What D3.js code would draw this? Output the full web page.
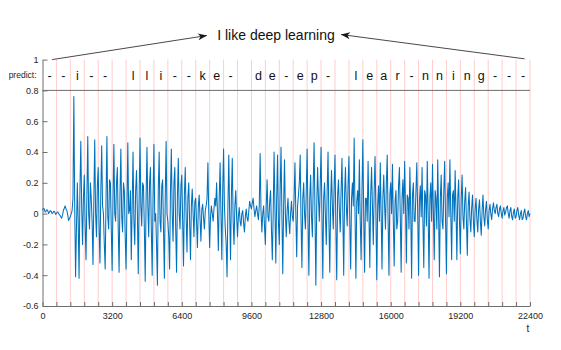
<!DOCTYPE html>
<html>
<head>
<meta charset="utf-8">
<script src="https://cdn.jsdelivr.net/npm/d3@7"></script>
<style>
  html, body { margin: 0; padding: 0; background: #fff; }
  svg { display: block; font-family: "Liberation Sans", Arial, Helvetica, sans-serif; }
</style>
</head>
<body>
<svg id="chart" width="561" height="350"></svg>
<script>
// Speech waveform, one value every 40 samples (t = 0 .. 22400)
const sampleStep = 40;
const wave = [
  0.02,0.035, 0.03,0.01, 0.015,0.025, 0.02,0.0, 0.01,0.02, 0.015,0.0, 0.005,0.015, 0.012,-0.005, 0.0,0.01, 0.008,-0.005,
  -0.01,-0.02, -0.03,-0.01, 0.02,0.035, 0.05,0.03, 0.02,-0.01, -0.045,-0.03, -0.02,0.0, 0.02,0.1, 0.76,0.05, -0.41,-0.1,
  0.2,-0.05, -0.42,0.15, 0.47,0.05, -0.2,0.1, 0.25,-0.08, -0.3,0.12, 0.5,0.0, -0.1,0.2, 0.1,-0.05, -0.33,0.1,
  0.48,0.0, -0.15,0.18, 0.3,-0.1, -0.32,0.15, 0.44,0.05, 0.0,-0.2, -0.36,0.1, 0.5,-0.02, -0.1,0.22, 0.2,-0.1,
  -0.37,0.1, 0.45,0.0, -0.05,0.2, 0.3,-0.1, -0.38,0.12, 0.42,-0.02, -0.12,0.2, 0.15,-0.15, -0.36,0.05, 0.46,0.0,
  0.02,0.15, -0.3,0.05, 0.4,-0.05, -0.2,0.15, 0.28,0.0, -0.39,0.1, 0.49,0.05, -0.08,0.2, 0.18,-0.1, -0.44,0.1,
  0.43,0.05, -0.15,0.2, 0.3,-0.1, -0.4,0.12, 0.45,-0.05, 0.0,-0.2, -0.465,0.15, 0.4,-0.05, -0.12,0.18, 0.22,-0.1,
  -0.42,0.1, 0.47,0.0, -0.05,-0.15, -0.36,0.15, 0.42,0.0, -0.18,0.2, 0.3,-0.1, -0.38,0.12, 0.36,0.0, -0.1,0.18,
  0.25,-0.05, -0.34,0.12, 0.3,-0.02, -0.25,0.1, 0.2,-0.05, -0.3,0.05, 0.16,0.0, -0.15,0.08, 0.1,-0.06, -0.22,0.05,
  0.12,-0.04, -0.18,0.03, 0.06,-0.03, -0.1,0.02, 0.05,0.1, 0.33,0.0, -0.22,-0.02, 0.05,0.0, -0.05,0.03, 0.1,0.05,
  0.2,0.0, -0.24,0.1, 0.33,0.0, -0.3,0.15, 0.42,0.05, -0.1,-0.2, -0.41,0.05, 0.38,0.0, -0.3,0.12, 0.36,-0.05,
  -0.2,0.05, 0.15,-0.02, -0.15,-0.02, 0.04,-0.05, -0.08,0.0, 0.02,-0.06, -0.12,-0.02, 0.03,-0.03, -0.05,0.02, 0.08,0.05,
  0.03,0.07, 0.1,0.03, -0.02,0.02, 0.05,0.0, -0.04,0.05, 0.39,0.02, -0.12,0.0, 0.05,-0.08, -0.2,0.05, 0.22,-0.02,
  -0.05,0.08, 0.15,-0.1, -0.3,0.0, 0.4,0.05, -0.32,0.1, 0.38,-0.05, -0.2,0.15, 0.43,0.0, -0.39,0.05, 0.35,0.0,
  -0.15,0.02, 0.1,-0.05, -0.13,0.0, 0.08,-0.02, -0.05,0.1, 0.33,0.0, -0.28,0.05, 0.12,0.2, 0.38,-0.05, -0.35,0.1,
  0.2,0.0, -0.1,0.15, 0.42,-0.05, -0.4,0.1, 0.25,-0.02, -0.15,0.2, 0.46,0.0, -0.465,0.05, 0.3,0.1, -0.05,0.18,
  0.43,0.0, -0.42,0.1, 0.2,-0.02, -0.2,0.15, 0.4,-0.05, -0.38,0.08, 0.28,0.05, -0.1,0.18, 0.38,-0.08, -0.43,0.12,
  0.22,0.02, -0.12,0.15, 0.36,0.0, -0.4,0.12, 0.3,0.05, -0.08,0.18, 0.37,-0.05, -0.36,0.1, 0.2,0.05, 0.49,0.0,
  -0.42,0.08, 0.15,0.0, 0.35,-0.05, -0.3,0.15, 0.48,-0.02, -0.38,0.1, 0.1,-0.05, 0.34,0.0, -0.35,0.12, 0.3,0.05,
  -0.2,0.15, 0.37,0.0, -0.43,0.05, 0.18,-0.05, 0.33,0.0, -0.36,0.1, 0.25,0.05, -0.1,0.2, 0.38,-0.05, -0.4,0.12,
  0.2,0.0, 0.32,-0.05, -0.34,0.08, 0.15,-0.1, -0.05,0.18, 0.3,-0.02, -0.38,0.1, 0.22,0.0, 0.34,0.05, -0.32,0.12,
  0.1,-0.1, 0.3,0.02, -0.42,0.12, 0.2,-0.05, -0.05,0.15, 0.33,0.0, -0.4,0.08, 0.18,-0.02, 0.3,-0.05, -0.35,0.15,
  0.12,-0.08, 0.34,0.0, -0.42,0.1, 0.2,-0.05, 0.32,0.02, -0.3,0.15, 0.1,-0.1, 0.35,0.0, -0.41,0.1, 0.25,-0.05,
  -0.1,0.15, 0.34,-0.05, -0.39,0.1, 0.2,-0.02, 0.35,0.0, -0.3,0.12, 0.15,-0.05, 0.28,0.02, -0.3,0.1, 0.22,-0.05,
  -0.26,0.1, 0.25,-0.02, -0.1,0.08, 0.17,-0.05, -0.27,0.05, 0.14,-0.03, -0.12,0.04, 0.12,-0.05, -0.15,0.03, 0.1,-0.04,
  -0.12,0.03, 0.09,-0.05, -0.14,0.02, 0.12,-0.02, -0.08,0.03, 0.08,-0.04, -0.1,0.02, 0.06,0.0, -0.04,0.03, 0.07,0.02,
  0.0,0.04, 0.06,0.0, -0.02,0.03, 0.05,0.0, -0.03,0.02, 0.04,-0.01, 0.01,0.04, 0.05,0.0, -0.03,0.02, 0.04,-0.02,
  -0.04,0.01, 0.03,-0.03, -0.02,0.02, 0.04,-0.01, -0.04,0.0, 0.02,-0.04, -0.03,0.01, 0.03,-0.02, -0.04,0.0, 0.02,-0.02,
  0.0
];

// Frame-level predictions (one per 640-sample frame)
const frameSize = 640;
const predict = ["-","-","i","-","-"," ","l","l","i","-","-","k","e","-"," ",
  "d","e","-","e","p","-"," ","l","e","a","r","-","n","n","i","n","g","-","-","-"];

const xTickLabels = [0, 3200, 6400, 9600, 12800, 16000, 19200, 22400];
const yTicks = [-0.6, -0.4, -0.2, 0, 0.2, 0.4, 0.6, 0.8, 1];
const title = "I like deep learning";

const svg = d3.select("#chart");
const x = d3.scaleLinear().domain([0, 22400]).range([42.5, 530]);
const y = d3.scaleLinear().domain([-0.6, 1]).range([306, 59.6]);

const ink = "#262626";
const axisGray = "#6e6e6e";

// frame boundaries
const bounds = d3.range(1, predict.length + 1).map(k => k * frameSize);
svg.append("g").selectAll("line").data(bounds).join("line")
  .attr("x1", d => x(d)).attr("x2", d => x(d))
  .attr("y1", y(1)).attr("y2", y(-0.6))
  .attr("stroke", "#ffcdcd").attr("stroke-width", 1);

// waveform
const line = d3.line()
  .x((d, i) => x(i * sampleStep))
  .y(d => y(d));
svg.append("path").datum(wave)
  .attr("d", line)
  .attr("fill", "none")
  .attr("stroke", "#0072BD")
  .attr("stroke-width", 1.05)
  .attr("stroke-linejoin", "round");

// separator between waveform and predictions
svg.append("line")
  .attr("x1", x(0)).attr("x2", x(22400))
  .attr("y1", y(0.8)).attr("y2", y(0.8))
  .attr("stroke", axisGray).attr("stroke-width", 1);

// axes
const xAxis = d3.axisBottom(x)
  .tickValues(d3.range(0, 22400 + 1, frameSize))
  .tickSizeInner(-4).tickSizeOuter(0).tickPadding(7)
  .tickFormat(d => xTickLabels.includes(d) ? String(d) : "");
const gx = svg.append("g").attr("transform", `translate(0,${y(-0.6)})`).call(xAxis);

const yAxis = d3.axisLeft(y)
  .tickValues(yTicks)
  .tickSizeInner(-5).tickSizeOuter(0).tickPadding(4)
  .tickFormat(d => String(+d.toFixed(1)));
const gy = svg.append("g").attr("transform", `translate(${x(0)},0)`).call(yAxis);

[gx, gy].forEach(g => {
  g.select(".domain").attr("stroke", axisGray);
  g.selectAll(".tick line").attr("stroke", axisGray);
  g.selectAll(".tick text").attr("fill", ink).attr("font-size", 9)
    .attr("font-family", "Liberation Sans, Arial, sans-serif");
});

svg.append("text").attr("x", x(22300)).attr("y", 332)
  .attr("text-anchor", "middle").attr("font-size", 10).attr("fill", ink).text("t");

// predictions row
svg.append("text").attr("x", 36.5).attr("y", 77.5)
  .attr("text-anchor", "end").attr("font-size", 8.5).attr("fill", ink).text("predict:");
svg.append("g").selectAll("text").data(predict).join("text")
  .attr("x", (d, i) => x((i + 0.5) * frameSize))
  .attr("y", y(0.868))
  .attr("text-anchor", "middle")
  .attr("font-size", 12.5)
  .attr("fill", "#111")
  .text(d => d);

// title with arrows
svg.append("text").attr("x", 276).attr("y", 39.5)
  .attr("text-anchor", "middle").attr("font-size", 14).attr("fill", "#111").text(title);

const defs = svg.append("defs");
defs.append("marker").attr("id", "head")
  .attr("viewBox", "-10 -5 12 10").attr("refX", 0).attr("refY", 0)
  .attr("markerWidth", 12).attr("markerHeight", 10)
  .attr("markerUnits", "userSpaceOnUse").attr("orient", "auto")
  .append("path").attr("d", "M0,0 L-9,-3.5 L-6.5,0 L-9,3.5 Z").attr("fill", "#1a1a1a");

const arrows = [
  { from: [x(440), y(1.0)], to: [207, 35.5] },
  { from: [x(22150), y(1.005)], to: [341, 34.5] }
];
svg.append("g").selectAll("line").data(arrows).join("line")
  .attr("x1", d => d.from[0]).attr("y1", d => d.from[1])
  .attr("x2", d => d.to[0]).attr("y2", d => d.to[1])
  .attr("stroke", "#1a1a1a").attr("stroke-width", 0.8)
  .attr("marker-end", "url(#head)");
</script>
</body>
</html>
